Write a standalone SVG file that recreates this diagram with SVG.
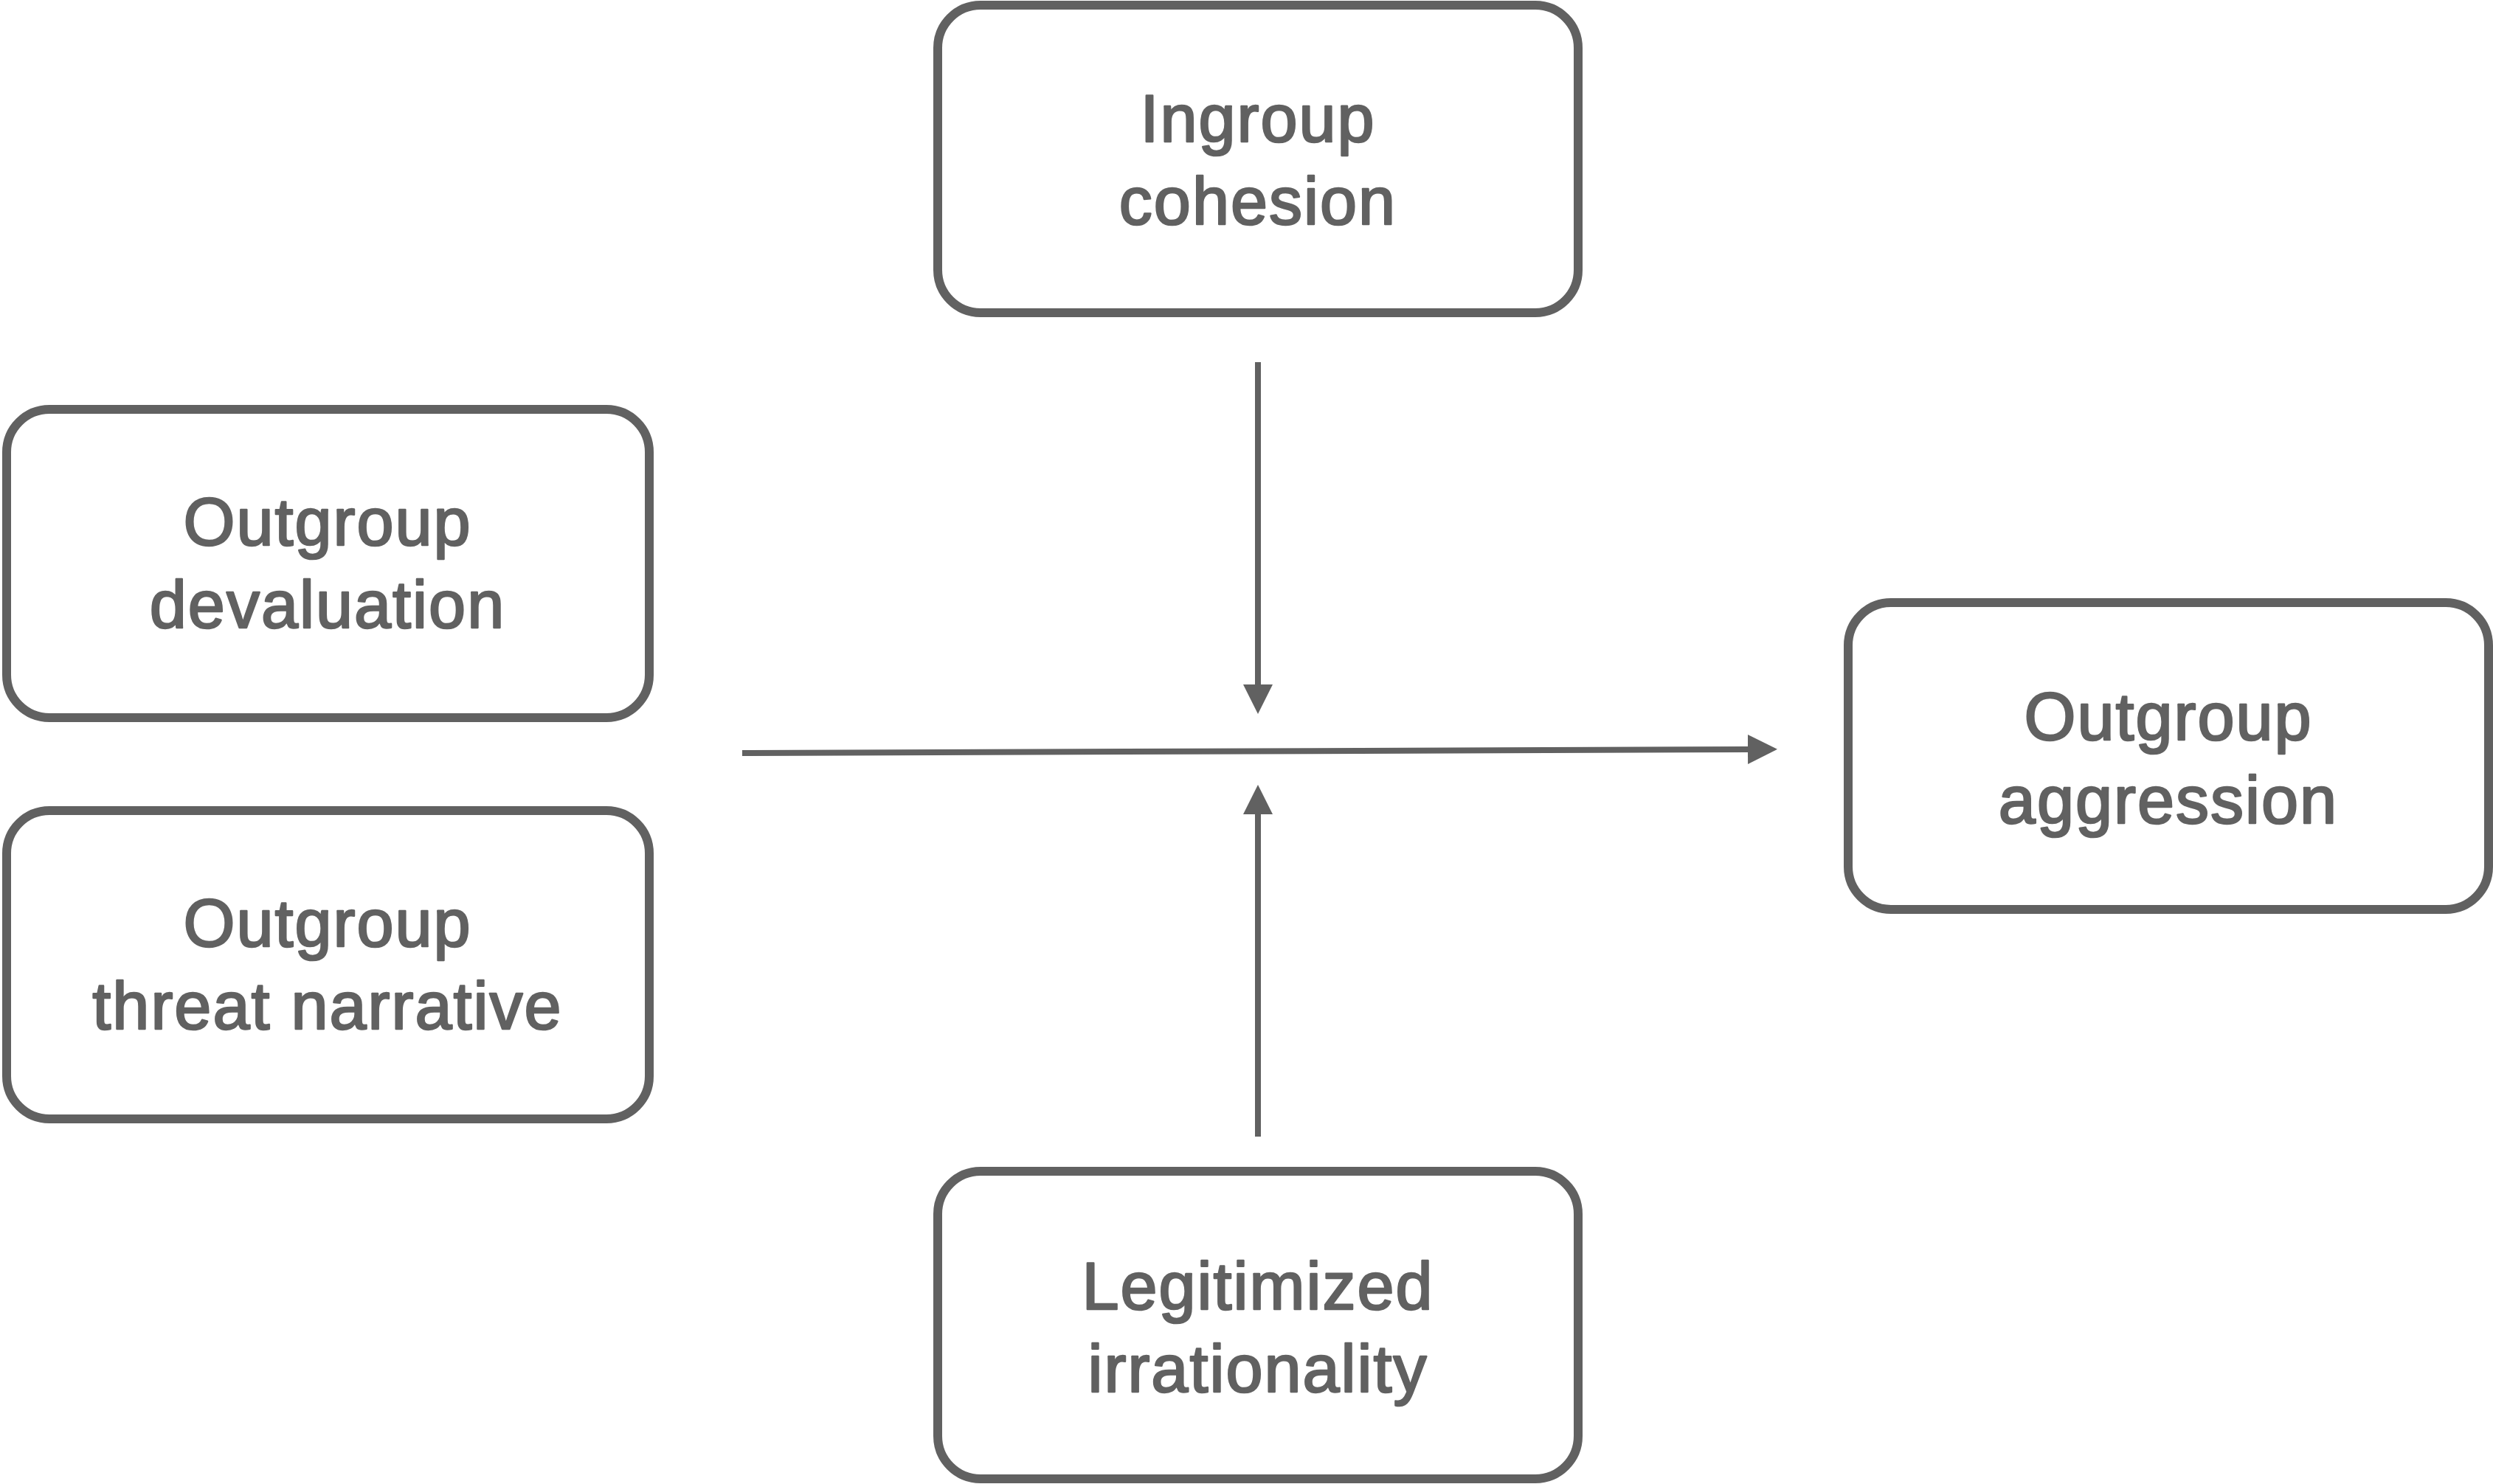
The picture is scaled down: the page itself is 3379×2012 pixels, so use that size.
<svg xmlns="http://www.w3.org/2000/svg" width="3379" height="2012" viewBox="0 0 3379 2012">
  <style>
    .box { fill: #ffffff; stroke: #616161; stroke-width: 12; }
    .lbl { font-family: "Liberation Sans", Arial, sans-serif; font-size: 90px; fill: #616161; stroke: #616161; stroke-width: 2.5px; stroke-linejoin: round; text-anchor: middle; letter-spacing: 2px; }
    .conn { stroke: #616161; stroke-width: 8; fill: none; }
  </style>
  <defs>
    <marker id="arrow" markerUnits="userSpaceOnUse" markerWidth="40" markerHeight="40" viewBox="0 0 40 40" refX="0" refY="20" orient="auto">
      <path d="M0,0 L40,20 L0,40 z" fill="#616161"/>
    </marker>
  </defs>
  <rect width="3379" height="2012" fill="#ffffff"/>

  <g id="node-ingroup-cohesion">
    <rect class="box" x="1271" y="7" width="868" height="417" rx="58" ry="58"/>
    <text class="lbl" x="1705" y="192">Ingroup</text>
    <text class="lbl" x="1705" y="304">cohesion</text>
  </g>

  <g id="node-outgroup-devaluation">
    <rect class="box" x="9" y="555" width="871" height="418" rx="58" ry="58"/>
    <text class="lbl" x="444" y="739">Outgroup</text>
    <text class="lbl" x="444" y="851">devaluation</text>
  </g>

  <g id="node-outgroup-threat-narrative">
    <rect class="box" x="9" y="1099" width="871" height="418" rx="58" ry="58"/>
    <text class="lbl" x="444" y="1283">Outgroup</text>
    <text class="lbl" x="444" y="1395">threat narrative</text>
  </g>

  <g id="node-outgroup-aggression">
    <rect class="box" x="2505" y="817" width="868" height="416" rx="58" ry="58"/>
    <text class="lbl" x="2939" y="1003">Outgroup</text>
    <text class="lbl" x="2939" y="1116">aggression</text>
  </g>

  <g id="node-legitimized-irrationality">
    <rect class="box" x="1271" y="1588" width="868" height="417" rx="58" ry="58"/>
    <text class="lbl" x="1705" y="1775">Legitimized</text>
    <text class="lbl" x="1705" y="1887">irrationality</text>
  </g>

  <g id="connectors">
    <line class="conn" x1="1006" y1="1021" x2="2369" y2="1016" marker-end="url(#arrow)"/>
    <line class="conn" x1="1705" y1="491" x2="1705" y2="928" marker-end="url(#arrow)"/>
    <line class="conn" x1="1705" y1="1541" x2="1705" y2="1104" marker-end="url(#arrow)"/>
  </g>
</svg>
